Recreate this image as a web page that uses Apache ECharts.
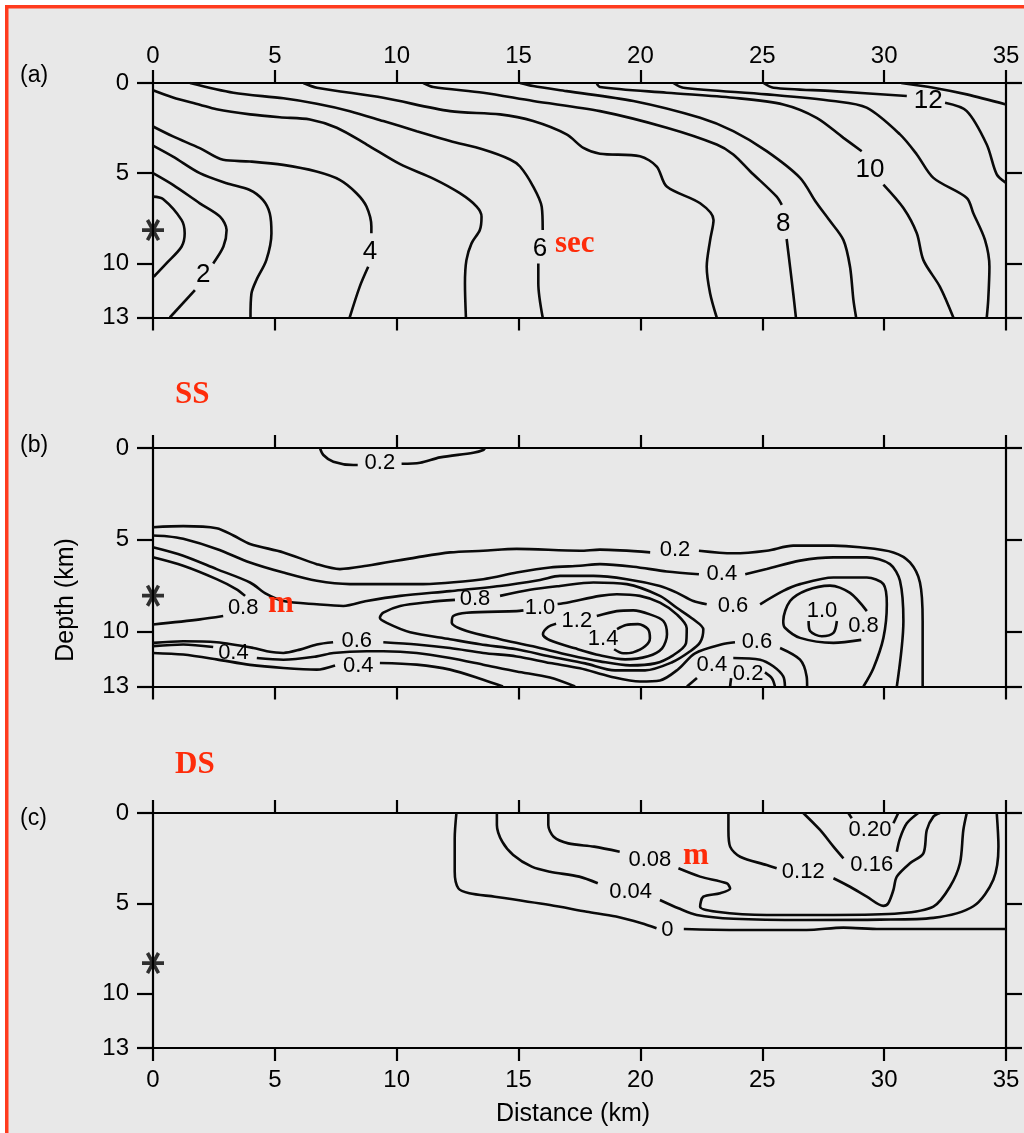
<!DOCTYPE html>
<html><head><meta charset="utf-8">
<script src="https://cdn.jsdelivr.net/npm/echarts@6/dist/echarts.min.js"></script>
<style>html,body{margin:0;padding:0;background:#fff}#c{width:1024px;height:1133px}</style>
</head><body><div id="c"></div>
<script>
// ---------- tick labels ----------
const distanceTicks = [0, 5, 10, 15, 20, 25, 30, 35];
const depthTicks = [0, 5, 10, 13];

// ---------- hypocentre (distance km, depth km) ----------
const hypoA = [[0, 8.15]];
const hypoB = [[0, 8.05]];
const hypoC = [[0, 8.3]];

// ---------- panel (a): travel-time contours, sec; segments split at labels ----------
const a1 = [[[0,6.30],[0.41,6.43],[1.17,7.59],[1.30,8.33],[1.17,9.08],[0.55,10.0],[0.03,10.74]]];
const a2 = [[[0,5.0],[0.82,5.65],[1.92,6.67],[2.75,7.41],[3.02,8.15],[2.89,9.07],[2.47,10.0]],
            [[1.72,11.48],[0.69,13]]];
const a3 = [[[0,3.47],[0.82,4.08],[1.92,5.0],[3.02,5.56],[3.97,5.93],[4.51,6.48],[4.79,7.22],[4.86,8.33],[4.65,9.82],[4.24,10.93],[4.04,11.67],[4.0,13]]];
const a4 = [[[0,2.41],[0.82,2.96],[1.92,3.61],[2.88,4.26],[3.97,4.35],[5.34,4.54],[6.71,4.91],[7.66,5.37],[8.35,6.11],[8.76,6.85],[8.96,7.96],[8.96,8.33]],
            [[8.83,10.19],[8.48,11.3],[8.07,13]]];
const a5 = [[[0,0.4],[0.82,0.8],[1.92,1.2],[2.61,1.46],[3.98,1.74],[5.2,1.9],[6.44,2.02],[7.54,2.48],[8.77,3.41],[10.14,4.5],[11.5,5.3],[12.59,6.11],[13.28,6.85],[13.48,7.41],[13.41,8.15],[13.07,8.89],[12.86,9.82],[12.8,11.11],[12.84,13]]];
const a6 = [[[1.52,0],[3.30,0.54],[5.35,0.85],[6.72,1.15],[8.08,1.56],[9.45,2.11],[10.82,2.67],[12.19,3.22],[13.55,3.69],[14.65,4.24],[15.06,4.63],[15.6,5.74],[15.95,6.86],[15.99,8.15]],
            [[15.81,10.0],[15.81,11.11],[15.99,13]]];
const a7 = [[[6.17,0],[6.72,0.26],[9.45,0.82],[12.19,1.56],[14.24,1.74],[15.6,2.11],[16.97,2.85],[17.66,3.6],[18.34,3.92],[19.98,4.06],[20.67,4.63],[21.08,5.74],[22.45,6.67],[23.0,7.59],[22.86,8.71],[22.72,10.19],[22.86,11.67],[23.13,13]]];
const a8 = [[[11.09,0],[11.5,0.22],[13.55,0.54],[15.6,1.0],[18.34,1.56],[21.08,2.48],[23.13,3.41],[23.81,3.96],[24.5,4.89],[25.59,6.3],[25.8,6.76]],
            [[26.0,8.65],[26.14,10.19],[26.27,11.67],[26.38,13]]];
const a9 = [[[15.06,0],[15.6,0.17],[16.97,0.45],[19.71,1.0],[22.45,1.93],[23.81,2.67],[25.18,3.78],[26.55,5.26],[27.2,6.6],[27.75,7.6],[28.33,8.71],[28.6,10.19],[28.74,12.04],[28.85,13]]];
const a10 = [[[18.2,0],[18.34,0.22],[21.08,0.54],[23.81,0.82],[25.86,1.19],[27.23,1.93],[28.33,3.04],[29.08,3.78]],
             [[29.97,5.63],[30.79,6.93],[31.34,8.33],[31.61,9.82],[32.29,11.3],[32.84,13]]];
const a11 = [[[21.35,0],[21.76,0.26],[25.18,0.63],[27.92,1.0],[29.28,1.37],[30.65,2.85],[31.34,3.96],[32.02,5.26],[33.39,6.37],[33.66,7.22],[34.14,8.71],[34.32,10.19],[34.27,12.04],[34.21,13]]];
const a12 = [[[25.05,0],[25.46,0.26],[27.92,0.45],[30.93,0.72]],
             [[32.5,1.1],[33.39,1.56],[34.21,3.41],[34.62,5.07],[35,5.54]]];
const a13 = [[[30.7,0],[32.02,0.26],[33.39,0.63],[35,1.19]]];
const labelsA = [[2.06,10.65,'2'],[8.9,9.36,'4'],[15.88,9.17,'6'],[25.86,7.78,'8'],[29.42,4.8,'10'],[31.81,1.0,'12']];

// ---------- panel (b): SS displacement contours, m ----------
const b02s = [[[6.85,0],[6.99,0.38],[7.4,0.75],[8.22,0.93],[8.4,0.93]],
              [[10.2,0.86],[10.96,0.8],[11.78,0.51],[13.14,0.26],[13.55,0.11],[13.62,0]]];
const b02 = [[[0,4.32],[1.24,4.26],[2.61,4.37],[3.3,4.77],[3.98,5.23],[5.35,5.69],[6.72,6.33],[7.67,6.6],[8.77,6.42],[10.82,5.96],[12.19,5.69],[13.55,5.6],[14.92,5.5],[17.52,5.6],[18.34,5.54],[20.4,5.69]],
             [[22.4,5.6],[23.8,5.74],[25.18,5.6],[26.27,5.32],[27.9,5.32],[29.01,5.41],[30.38,5.69],[31.06,6.24],[31.47,7.33],[31.58,9.43],[31.58,13]]];
const b04 = [[[0,4.77],[0.56,4.81],[1.24,4.95],[2.61,5.5],[3.98,6.24],[5.35,6.79],[6.72,7.24],[8.08,7.42],[10.82,7.42],[13.55,7.15],[14.92,6.79],[16.29,6.51],[17.52,6.42],[18.34,6.33],[19.71,6.47],[21.08,6.73],[22.4,6.88]],
             [[24.3,6.88],[25.18,6.6],[26.55,6.14],[27.92,5.96],[29.29,5.96],[30.24,6.33],[30.65,7.24],[30.79,9.43],[30.52,13]]];
const b06u = [[[0,5.41],[1.24,5.87],[2.61,6.6],[3.98,7.33],[4.67,7.97],[5.35,8.34],[6.72,8.52],[7.81,8.61],[8.77,8.34],[10.14,8.06],[12.19,7.8],[14.24,7.52],[15.88,7.19],[16.7,6.97],[18.07,6.97],[19.44,7.15],[20.8,7.52],[21.49,7.88],[22.17,8.34],[22.72,8.52]],
              [[24.91,8.52],[25.86,7.79],[26.55,7.42],[27.92,7.06],[29.29,7.06],[29.97,7.42],[30.11,8.52],[29.97,10.35],[29.56,12.0],[29.15,13]]];
const b08s = [[[0,5.96],[1.24,6.42],[2.61,7.15],[3.43,7.7],[3.78,8.06]],
              [[2.88,9.16],[1.93,9.34],[0,9.62]]];
const b08m = [[[14.24,8.06],[15.47,7.73],[16.7,7.52],[18.07,7.33],[19.44,7.42],[20.8,8.06],[21.49,8.71],[22.17,9.34],[22.58,9.89],[22.45,10.59],[22.04,11.08],[21.3,11.68],[20.19,12.12],[18.96,12.12],[17.73,11.74],[16.29,11.36],[14.92,10.97],[13.42,10.7],[12.19,10.42],[10.55,10.04],[9.59,9.53],[9.31,9.25],[9.45,8.98],[10.14,8.61],[11.37,8.39],[12.39,8.28]]];
const b10 = [[[16.6,8.5],[16.98,8.43],[18.34,8.06],[19.03,7.97],[19.98,8.06],[20.8,8.43],[21.49,9.07],[21.9,9.82],[21.87,10.64],[21.34,11.3],[20.6,11.74],[19.57,11.85],[18.34,11.63],[17.11,11.3],[15.59,10.81],[14.24,10.42],[12.87,9.98],[12.26,9.53],[12.32,9.16],[12.87,8.98],[14.92,8.89],[15.2,8.85]]];
const b12 = [[[18.21,9.16],[19.03,8.89],[19.71,8.85],[20.39,9.07],[20.94,9.43],[21.09,10.15],[20.89,10.92],[20.31,11.35],[19.37,11.52],[18.34,11.3],[17.32,10.92],[16.29,10.48],[16.0,10.15],[16.21,9.76],[16.54,9.58]]];
const b14 = [[[19.04,9.87],[19.41,9.65],[19.9,9.6],[20.31,9.87],[20.39,10.37],[20.19,10.81],[19.7,11.14],[19.29,11.19],[18.92,10.97]]];
const b06l = [[[0,10.62],[1.24,10.53],[2.61,10.59],[4.12,10.9],[4.67,11.08],[5.35,11.17],[6.03,10.99],[6.72,10.71],[7.39,10.59]],
              [[9.45,10.59],[10.82,10.71],[12.19,10.9],[13.55,11.17],[14.92,11.36],[16.29,11.72],[17.52,12.01],[18.75,12.45],[19.98,12.73],[20.8,12.67],[21.54,12.07],[22.24,11.19],[23.35,10.7],[23.88,10.59]],
              [[25.73,10.9],[26.55,11.54],[26.82,12.45],[26.84,13]]];
const b04a = [[[0,10.8],[1.24,10.71],[2.47,10.85]],
              [[4.26,11.45],[5.35,11.54],[6.72,11.36],[7.4,11.17],[8.77,11.08],[9.45,11.08],[10.82,11.17],[12.19,11.45],[13.55,11.81],[14.92,12.18],[16.29,12.51],[17.32,13]]];
const b04b = [[[0,11.17],[1.24,11.26],[2.61,11.52],[3.98,11.82],[5.35,11.99],[6.72,12.08],[7.47,11.85]],
              [[9.31,11.72],[10.82,11.81],[12.19,12.08],[13.55,12.63],[14.36,13]]];
const b04r = [[[21.91,13],[22.32,12.54]],
              [[23.81,11.45],[24.91,11.54],[25.45,11.9],[25.86,12.45],[25.93,13]]];
const b02r = [[[23.68,13],[23.72,12.54]],
              [[25.11,12.23],[25.4,12.56],[25.52,13]]];
const b08r = [[[29.06,10.46],[27.92,10.62],[26.55,10.35],[25.93,9.8],[25.86,9.43],[26.14,8.34],[26.82,7.75],[27.78,7.5],[28.6,7.9],[29.29,8.89]]];
const b10r = [[[26.9,9.43],[26.96,9.98],[27.44,10.26],[27.92,10.08],[28.06,9.43]]];
const labelsB = [[9.31,0.84,'0.2'],[21.42,5.58,'0.2'],[23.34,6.88,'0.4'],[23.8,8.61,'0.6'],[3.7,8.72,'0.8'],
                 [13.21,8.23,'0.8'],[15.88,8.71,'1.0'],[17.39,9.43,'1.2'],[18.47,10.42,'1.4'],[3.3,11.17,'0.4'],
                 [8.36,10.53,'0.6'],[8.42,11.9,'0.4'],[24.78,10.59,'0.6'],[22.93,11.81,'0.4'],[24.42,12.29,'0.2'],
                 [27.45,8.89,'1.0'],[29.15,9.71,'0.8']];

// ---------- panel (c): DS displacement contours, m ----------
const c00 = [[[12.45,0],[12.38,1.4],[12.38,3.25],[12.53,4.17],[12.98,4.44],[14.03,4.63],[16.29,5.09],[17.8,5.46],[19.0,5.73],[20.05,6.1],[20.66,6.38]],
             [[21.78,6.42],[23.82,6.47],[26.82,6.47],[28.33,6.34],[29.83,6.42],[32.84,6.42],[35,6.42]]];
const c04 = [[[14.11,0],[14.11,0.66],[14.33,1.59],[14.78,2.32],[15.54,2.97],[16.29,3.25],[17.49,3.52],[18.25,3.89]],
             [[20.8,4.81],[21.56,5.27],[22.31,5.64],[23.82,5.85],[26.82,5.92],[29.83,5.9],[32.02,5.8],[33.66,5.16],[34.48,3.69],[34.69,1.86],[34.62,0]]];
const c08 = [[[16.22,0],[16.22,0.66],[16.44,1.31],[17.04,1.68],[18.1,1.86],[19.15,2.14]],
             [[21.56,3.06],[22.45,3.52],[23.54,3.89],[23.68,4.17],[23.27,4.44],[22.58,4.63],[22.45,5.18],[23.13,5.46],[25.18,5.64],[27.92,5.64],[30.65,5.55],[32.02,5.18],[32.7,4.08],[33.11,2.78],[33.25,0.94],[33.39,0]]];
const c12 = [[[23.61,0],[23.61,0.94],[23.68,1.86],[24.09,2.42],[25.18,2.88],[25.59,3.06]],
             [[27.92,3.61],[28.6,4.08],[29.29,4.63],[29.97,5.14],[30.17,4.99],[30.38,4.26],[30.52,3.52],[31.06,2.78],[31.61,2.23],[31.75,0.94],[32.02,0.2],[32.29,0]]];
const c16 = [[[26.68,0],[27.37,0.94],[27.92,1.86],[28.33,2.51]],
             [[30.52,2.14],[30.65,1.4],[30.93,0.57],[31.4,0]]];
const c20 = [[[28.53,0],[28.67,0.29]],
             [[30.38,0.57],[30.58,0]]];
const labelsC = [[21.11,6.47,'0'],[19.6,4.35,'0.04'],[20.39,2.6,'0.08'],[26.68,3.25,'0.12'],[29.49,2.88,'0.16'],[29.42,0.94,'0.20']];

// ---------- build ----------
const INK = '#000000';
const RED = '#fe2c0a';
const FONT = '"Liberation Sans", Arial, Helvetica, sans-serif';
const SERIF = '"Liberation Serif", "Times New Roman", serif';
const GRIDS = [{top: 83, height: 234.5}, {top: 448, height: 238.5}, {top: 813, height: 235}];
const ASTER = 'path://M0,42 L100,42 L100,58 L0,58 Z M18,11 L32,3 L82,89 L68,97 Z M32,97 L18,89 L68,3 L82,11 Z';

function xAx(gi, pos, showLabel) {
  return {
    type: 'value', gridIndex: gi, position: pos, min: 0, max: 35, interval: 5,
    axisLine: {show: true, onZero: false, lineStyle: {color: INK, width: 2.2}},
    axisTick: {show: true, inside: false, length: 13, customValues: distanceTicks, lineStyle: {color: INK, width: 2.2}},
    axisLabel: {show: showLabel, customValues: distanceTicks, margin: pos === 'top' ? 15 : 20, color: INK, fontSize: 24, fontFamily: FONT, showMinLabel: true, showMaxLabel: true},
    splitLine: {show: false}
  };
}
function yAx(gi, pos, showLabel) {
  return {
    type: 'value', gridIndex: gi, position: pos, min: 0, max: 13, interval: 5, inverse: true,
    axisLine: {show: true, onZero: false, lineStyle: {color: INK, width: 2.2}},
    axisTick: {show: true, inside: false, length: 16, customValues: depthTicks, lineStyle: {color: INK, width: 2.2}},
    axisLabel: {show: showLabel, customValues: depthTicks, margin: 24, color: INK, fontSize: 24, fontFamily: FONT, showMinLabel: true, showMaxLabel: true},
    splitLine: {show: false}
  };
}

const series = [];
function addContours(list, gi) {
  list.forEach(function (c) {
    c.forEach(function (seg) {
      series.push({
        type: 'line', xAxisIndex: 2 * gi, yAxisIndex: 2 * gi, data: seg,
        symbol: 'none', showSymbol: false, smooth: 0.3, clip: true, silent: true, z: 3,
        lineStyle: {color: '#0a0a0a', width: 2.6}
      });
    });
  });
}
function addLabels(labels, gi, fs) {
  series.push({
    type: 'scatter', xAxisIndex: 2 * gi, yAxisIndex: 2 * gi, silent: true, z: 4, clip: false,
    symbolSize: 0.01, itemStyle: {color: INK, opacity: 1},
    data: labels.map(function (l) { return {value: [l[0], l[1]], name: l[2]}; }),
    label: {show: true, position: 'inside', formatter: '{b}', color: '#000', opacity: 1,
            textBorderWidth: 0, fontSize: fs, fontFamily: FONT}
  });
}
function addHypo(pt, gi) {
  series.push({
    type: 'scatter', xAxisIndex: 2 * gi, yAxisIndex: 2 * gi, silent: true, z: 5, clip: false,
    data: pt, symbol: ASTER, symbolSize: 22, itemStyle: {color: INK}
  });
}

addContours([a1, a2, a3, a4, a5, a6, a7, a8, a9, a10, a11, a12, a13], 0);
addLabels(labelsA, 0, 26);
addHypo(hypoA, 0);
addContours([b02s, b02, b04, b06u, b08s, b08m, b10, b12, b14, b06l, b04a, b04b, b04r, b02r, b08r, b10r], 1);
addLabels(labelsB, 1, 22);
addHypo(hypoB, 1);
addContours([c00, c04, c08, c12, c16, c20], 2);
addLabels(labelsC, 2, 22);
addHypo(hypoC, 2);

function txt(text, x, y, font, fill, align, rot) {
  return {type: 'text', x: x, y: y, rotation: rot || 0, z: 100,
    style: {text: text, font: font, fill: fill, textAlign: align || 'left', textVerticalAlign: 'middle'}};
}

const option = {
  backgroundColor: '#e8e8e8',
  animation: false,
  grid: GRIDS.map(function (g) { return {left: 153, width: 853, top: g.top, height: g.height, containLabel: false}; }),
  xAxis: [xAx(0, 'top', true), xAx(0, 'bottom', false), xAx(1, 'top', false), xAx(1, 'bottom', false), xAx(2, 'top', false), xAx(2, 'bottom', true)],
  yAxis: [yAx(0, 'left', true), yAx(0, 'right', false), yAx(1, 'left', true), yAx(1, 'right', false), yAx(2, 'left', true), yAx(2, 'right', false)],
  series: series,
  graphic: [
    {type: 'rect', z: 100, shape: {x: 0, y: 0, width: 1024, height: 5}, style: {fill: '#ffffff'}},
    {type: 'rect', z: 100, shape: {x: 0, y: 0, width: 5, height: 1133}, style: {fill: '#ffffff'}},
    {type: 'rect', z: 101, shape: {x: 5, y: 5, width: 1019, height: 3.5}, style: {fill: '#ff3b1e'}},
    {type: 'rect', z: 101, shape: {x: 5, y: 5, width: 3.5, height: 1128}, style: {fill: '#ff3b1e'}},
    txt('(a)', 20, 76, '23px ' + FONT, INK),
    txt('(b)', 20, 446, '23px ' + FONT, INK),
    txt('(c)', 20, 819, '23px ' + FONT, INK),
    txt('Depth (km)', 66, 600, '25px ' + FONT, INK, 'center', Math.PI / 2),
    txt('Distance (km)', 573, 1114, '25px ' + FONT, INK, 'center'),
    txt('sec', 555, 244, 'bold 31px ' + SERIF, RED),
    txt('SS', 175, 395, 'bold 31px ' + SERIF, RED),
    txt('DS', 175, 765, 'bold 31px ' + SERIF, RED),
    txt('m', 268, 604, 'bold 31px ' + SERIF, RED),
    txt('m', 683, 856, 'bold 31px ' + SERIF, RED)
  ]
};
const chart = echarts.init(document.getElementById('c'), null, {renderer: 'canvas'});
chart.setOption(option);
</script></body></html>
